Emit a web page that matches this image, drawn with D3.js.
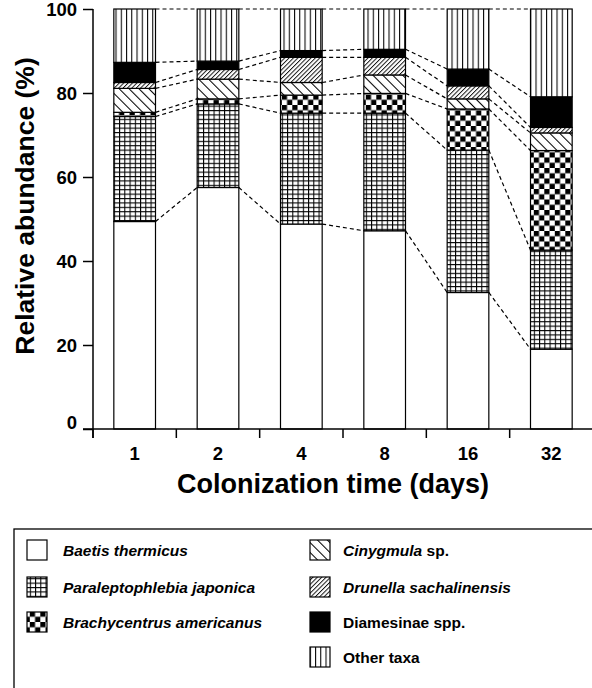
<!DOCTYPE html>
<html lang="en">
<head>
    <meta charset="UTF-8">
    <title>Relative abundance by colonization time</title>
    <script src="https://d3js.org/d3.v7.min.js"></script>
    <style>
        body { margin: 0; background: #fff; }
        svg { font-family: "Liberation Sans", Arial, Helvetica, sans-serif; font-weight: bold; }
        .seg { stroke: #000; stroke-width: 1.2px; }
        .link { stroke: #000; stroke-width: 1.2px; stroke-dasharray: 4 3; fill: none; }
        .axis line, .axis path { stroke: #000; stroke-width: 1.5px; }
    </style>
</head>
<body>
    <svg width="592" height="688"></svg>
    <script>
        const width = 592;
        const height = 688;

        // Colonization times (days)
        const days = ["1", "2", "4", "8", "16", "32"];

        // Taxa from bottom of the stack to top
        const taxa = ["baetis", "para", "brachy", "cinyg", "drunella", "diames", "other"];

        // Relative abundance (%) per taxon, one value per colonization time
        const baetis   = [49.4, 57.5, 48.8, 47.2, 32.5, 19.0];
        const para     = [25.0, 19.9, 26.4, 28.0, 33.9, 23.6];
        const brachy   = [1.0, 1.2, 4.3, 4.7, 9.8, 23.7];
        const cinyg    = [5.7, 4.7, 3.0, 4.4, 2.4, 4.2];
        const drunella = [1.4, 2.3, 6.0, 4.2, 3.1, 1.3];
        const diames   = [4.8, 2.0, 1.6, 1.9, 4.0, 7.3];
        const other    = [12.7, 12.4, 9.9, 9.6, 14.3, 20.9];

        const yTicks = [0, 20, 40, 60, 80, 100];

        // legend: [taxon, italic part, plain part]
        const legendLeft = [
            ["baetis", "Baetis thermicus", ""],
            ["para", "Paraleptophlebia japonica", ""],
            ["brachy", "Brachycentrus americanus", ""]
        ];
        const legendRight = [
            ["cinyg", "Cinygmula", " sp."],
            ["drunella", "Drunella sachalinensis", ""],
            ["diames", "", "Diamesinae spp."],
            ["other", "", "Other taxa"]
        ];

        const series = {baetis, para, brachy, cinyg, drunella, diames, other};
        const rows = days.map((d, i) => {
            const r = {day: d};
            taxa.forEach(t => r[t] = series[t][i]);
            return r;
        });

        const svg = d3.select("svg");

        // ----- fill patterns -----
        const defs = svg.append("defs");

        function linePattern(id, size, angle, sw) {
            const p = defs.append("pattern").attr("id", id)
                .attr("patternUnits", "userSpaceOnUse")
                .attr("width", size).attr("height", size)
                .attr("patternTransform", `rotate(${angle})`);
            p.append("rect").attr("width", size).attr("height", size).attr("fill", "#fff");
            p.append("line").attr("x1", 0.5).attr("y1", 0).attr("x2", 0.5).attr("y2", size)
                .attr("stroke", "#000").attr("stroke-width", sw);
        }
        linePattern("pat-other", 5.25, 0, 1.1);
        linePattern("pat-cinyg", 7, -45, 1.1);
        linePattern("pat-drunella", 3.1, 45, 0.9);

        const grid = defs.append("pattern").attr("id", "pat-para")
            .attr("patternUnits", "userSpaceOnUse")
            .attr("x", 113.8).attr("width", 5.25).attr("height", 4.4);
        grid.append("rect").attr("width", 5.25).attr("height", 4.4).attr("fill", "#fff");
        grid.append("path").attr("d", "M0.5,0V4.4M0,0.5H5.25")
            .attr("stroke", "#000").attr("stroke-width", 1.1);

        const checker = defs.append("pattern").attr("id", "pat-brachy")
            .attr("patternUnits", "userSpaceOnUse")
            .attr("x", 113.8).attr("width", 10.5).attr("height", 10.5);
        checker.append("rect").attr("width", 10.5).attr("height", 10.5).attr("fill", "#fff");
        checker.append("rect").attr("width", 5.25).attr("height", 5.25).attr("fill", "#000");
        checker.append("rect").attr("x", 5.25).attr("y", 5.25).attr("width", 5.25).attr("height", 5.25).attr("fill", "#000");

        const fills = {
            baetis: "#fff",
            para: "url(#pat-para)",
            brachy: "url(#pat-brachy)",
            cinyg: "url(#pat-cinyg)",
            drunella: "url(#pat-drunella)",
            diames: "#000",
            other: "url(#pat-other)"
        };

        // ----- scales -----
        const x = d3.scaleBand().domain(days).range([93, 593])
            .paddingInner(0.5).paddingOuter(0.25);
        const y = d3.scaleLinear().domain([0, 100]).range([429, 9]);

        const stacked = d3.stack().keys(taxa)(rows);

        // dashed connectors between segment boundaries of neighbouring bars
        const boundaries = stacked.map(s => s.map(p => p[1]));
        const linkData = [];
        boundaries.forEach(b => {
            for (let i = 0; i < days.length - 1; i++) {
                linkData.push({x1: x(days[i]) + x.bandwidth(), y1: y(b[i]), x2: x(days[i + 1]), y2: y(b[i + 1])});
            }
        });
        svg.append("g").selectAll("line").data(linkData).join("line")
            .attr("class", "link")
            .attr("x1", d => d.x1).attr("y1", d => d.y1)
            .attr("x2", d => d.x2).attr("y2", d => d.y2);

        // bars
        svg.append("g").selectAll("g").data(stacked).join("g")
            .attr("fill", d => fills[d.key])
            .selectAll("rect").data(d => d).join("rect")
            .attr("class", "seg")
            .attr("x", d => x(d.data.day))
            .attr("width", x.bandwidth())
            .attr("y", d => y(d[1]))
            .attr("height", d => y(d[0]) - y(d[1]));

        // ----- axes -----
        const yAxis = svg.append("g").attr("class", "axis").attr("transform", "translate(93,0)")
            .call(d3.axisLeft(y).tickValues(yTicks).tickSize(10).tickPadding(6).tickSizeOuter(0));
        yAxis.select(".domain").remove();
        yAxis.append("line").attr("x1", 0).attr("x2", 0).attr("y1", 9).attr("y2", 438);
        yAxis.selectAll("text").attr("font-size", 18.5).attr("font-family", null).attr("fill", "#000")
            .attr("dy", d => d === 0 ? "-0.05em" : "0.36em");

        const xAxis = svg.append("g").attr("class", "axis").attr("transform", "translate(0,429)");
        xAxis.append("line").attr("x1", 83).attr("x2", 592).attr("y1", 0).attr("y2", 0);
        xAxis.selectAll(".xt").data(days).join("line").attr("class", "xt")
            .attr("x1", d => x(d) - x.step() * 0.25).attr("x2", d => x(d) - x.step() * 0.25)
            .attr("y1", 0).attr("y2", 9);
        xAxis.selectAll("text").data(days).join("text")
            .attr("x", d => x(d) + x.bandwidth() / 2).attr("y", 31)
            .attr("text-anchor", "middle").attr("font-size", 18.5).text(d => d);

        svg.append("text").attr("x", 333).attr("y", 493).attr("text-anchor", "middle")
            .attr("font-size", 27).text("Colonization time (days)");

        svg.append("text").attr("transform", "translate(34,206) rotate(-90)")
            .attr("text-anchor", "middle").attr("font-size", 26.5).text("Relative abundance (%)");

        // ----- legend -----
        svg.append("rect").attr("x", 14).attr("y", 529).attr("width", 600).attr("height", 200)
            .attr("fill", "none").attr("stroke", "#000").attr("stroke-width", 1.3);

        const rowY = [550, 587, 622, 657];

        function drawLegend(items, sx, tx) {
            const g = svg.append("g").selectAll("g").data(items).join("g")
                .attr("transform", (d, i) => `translate(0,${rowY[i]})`);
            g.append("rect").attr("x", sx).attr("y", -10).attr("width", 20).attr("height", 20)
                .attr("fill", d => fills[d[0]]).attr("stroke", "#000").attr("stroke-width", 1.2);
            const t = g.append("text").attr("x", tx).attr("y", 5.5).attr("font-size", 15.5);
            t.append("tspan").attr("font-style", "italic").text(d => d[1]);
            t.append("tspan").text(d => d[2]);
        }
        drawLegend(legendLeft, 27, 63);
        drawLegend(legendRight, 310, 343);
    </script>
</body>
</html>
